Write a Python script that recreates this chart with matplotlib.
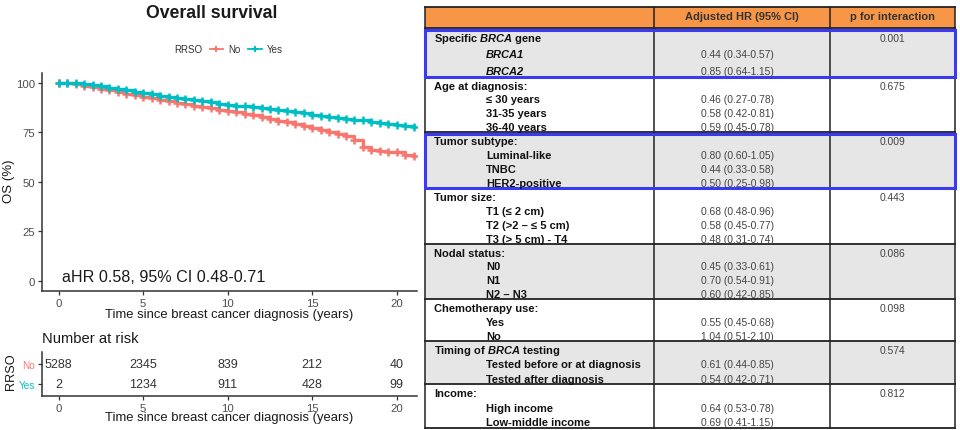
import matplotlib
matplotlib.use('Agg')
import matplotlib.pyplot as plt
from matplotlib.patches import Rectangle

plt.rcParams['font.family'] = ['Liberation Sans', 'DejaVu Sans']
plt.rcParams['mathtext.fontset'] = 'custom'
plt.rcParams['mathtext.it'] = 'Liberation Sans:italic:bold'
plt.rcParams['mathtext.rm'] = 'Liberation Sans:italic:bold'
plt.rcParams['mathtext.bf'] = 'Liberation Sans:italic:bold'

# ---------------- data ----------------
time_yrs = [0, 0.5, 1, 1.5, 2, 2.5, 3, 3.5, 4, 4.5, 5, 5.5, 6, 6.5, 7, 7.5, 8, 8.5,
            9, 9.5, 10, 10.5, 11, 11.5, 12, 12.5, 13, 13.5, 14, 14.5, 15, 15.5, 16,
            16.5, 17, 17.5, 18, 18.5, 19, 19.5, 20, 20.5, 21]
os_no = [100, 100, 99.5, 98.7, 97.9, 97.1, 96.3, 95.5, 94.6, 93.8, 92.9, 92.2, 91.5,
         90.7, 90.0, 89.3, 88.6, 87.9, 87.2, 86.5, 85.8, 85.1, 84.4, 83.6, 82.8, 81.9,
         81.0, 80.1, 79.1, 78.1, 77.1, 76.1, 75.2, 74.4, 73.3, 71.2, 67.6, 66.3, 65.6,
         65.2, 64.9, 63.8, 63.3]
os_yes = [100, 100, 99.8, 99.4, 98.9, 98.3, 97.7, 97.0, 96.3, 95.6, 94.8, 94.2, 93.6,
          93.0, 92.4, 91.8, 91.3, 90.8, 90.2, 89.6, 89.0, 88.6, 88.2, 87.7, 87.2, 86.7,
          86.2, 85.7, 85.2, 84.6, 84.0, 83.5, 83.0, 82.5, 82.0, 81.5, 81.1, 80.5, 79.8,
          79.2, 78.8, 78.1, 77.6]

risk_times = [0, 5, 10, 15, 20]
risk_no = [5288, 2345, 839, 212, 40]
risk_yes = [2, 1234, 911, 428, 99]

group_labels = [r"Specific $\mathit{BRCA}$ gene", "Age at diagnosis:", "Tumor subtype:",
                "Tumor size:", "Nodal status:", "Chemotherapy use:",
                r"Timing of $\mathit{BRCA}$ testing", "Income:"]
group_p = ["0.001", "0.675", "0.009", "0.443", "0.086", "0.098", "0.574", "0.812"]
sub_labels = [["BRCA1", "BRCA2"],
              ["≤ 30 years", "31-35 years", "36-40 years"],
              ["Luminal-like", "TNBC", "HER2-positive"],
              ["T1 (≤ 2 cm)", "T2 (>2 – ≤ 5 cm)", "T3 (> 5 cm) - T4"],
              ["N0", "N1", "N2 – N3"],
              ["Yes", "No"],
              ["Tested before or at diagnosis", "Tested after diagnosis"],
              ["High income", "Low-middle income"]]
italic_sub_groups = [0]
sub_hr = [["0.44 (0.34-0.57)", "0.85 (0.64-1.15)"],
          ["0.46 (0.27-0.78)", "0.58 (0.42-0.81)", "0.59 (0.45-0.78)"],
          ["0.80 (0.60-1.05)", "0.44 (0.33-0.58)", "0.50 (0.25-0.98)"],
          ["0.68 (0.48-0.96)", "0.58 (0.45-0.77)", "0.48 (0.31-0.74)"],
          ["0.45 (0.33-0.61)", "0.70 (0.54-0.91)", "0.60 (0.42-0.85)"],
          ["0.55 (0.45-0.68)", "1.04 (0.51-2.10)"],
          ["0.61 (0.44-0.85)", "0.54 (0.42-0.71)"],
          ["0.64 (0.53-0.78)", "0.69 (0.41-1.15)"]]
highlight_groups = [0, 2]

RED = '#F8766D'
TEAL = '#00BFC4'
W, H = 960, 431

fig = plt.figure(figsize=(9.6, 4.31), dpi=100)

def fx(px):
    return px / W

def fy(py):
    return 1 - py / H

# ---------------- table (background axes in pixel coords) ----------------
tab = fig.add_axes([0, 0, 1, 1])
tab.set_xlim(0, W)
tab.set_ylim(H, 0)
tab.axis('off')

X0, X1, X2, X3 = 425, 654, 830, 955
HEAD_TOP, HEAD_BOT = 8, 29
bounds = [29, 78, 133, 189, 245, 300, 342, 385, 429]

tab.add_patch(Rectangle((X0, HEAD_TOP), X3 - X0, HEAD_BOT - HEAD_TOP,
                        fc='#F79646', ec='none', zorder=1))
tab.text((X1 + X2) / 2, 19.5, "Adjusted HR (95% CI)",
         ha='center', va='baseline', fontsize=8, fontweight='bold', color='#333333', zorder=5)
tab.text((X2 + X3) / 2, 19.5, "p for interaction",
         ha='center', va='baseline', fontsize=8, fontweight='bold', color='#333333', zorder=5)

for i, glab in enumerate(group_labels):
    top, bot = bounds[i], bounds[i + 1]
    if i % 2 == 0:
        tab.add_patch(Rectangle((X0, top), X3 - X0, bot - top, fc='#E6E6E6',
                                ec='none', zorder=1))
    n = 1 + len(sub_labels[i])
    h = (bot - top) / n
    ys = [top + (k + 0.5) * h + 4.7 for k in range(n)]
    tab.text(X0 + 9, ys[0], glab, ha='left', va='baseline', fontsize=8,
             fontweight='bold', color='#111111', zorder=5)
    tab.text((X2 + X3) / 2, ys[0], group_p[i], ha='center', va='baseline',
             fontsize=7.4, color='#444444', zorder=5)
    style = 'italic' if i in italic_sub_groups else 'normal'
    for k, (sl, hr) in enumerate(zip(sub_labels[i], sub_hr[i])):
        tab.text(X0 + 61, ys[k + 1], sl, ha='left', va='baseline', fontsize=8,
                 fontweight='bold', fontstyle=style, color='#111111', zorder=5)
        tab.text(701, ys[k + 1], hr, ha='left', va='baseline', fontsize=7.4,
                 color='#444444', zorder=5)

for yb in [HEAD_TOP, HEAD_BOT] + bounds[1:]:
    tab.plot([X0, X3], [yb, yb], color='#222222', lw=1.3, zorder=3,
             solid_capstyle='projecting')
for xb in [X0, X1, X2, X3]:
    tab.plot([xb, xb], [HEAD_TOP, bounds[-1]], color='#222222', lw=1.1, zorder=3)

for gi in highlight_groups:
    tab.add_patch(Rectangle((X0, bounds[gi] + 2), X3 - X0, bounds[gi + 1] - bounds[gi] - 2,
                            fill=False, ec='#3A3AF2', lw=2.2, zorder=4))

# ---------------- KM plot ----------------
ax_l, ax_r = 41.8, 417.0
ax = fig.add_axes([fx(ax_l), fy(291.6), (ax_r - ax_l) / W, (291.6 - 74.1) / H])
ax.step(time_yrs, os_no, where='post', color=RED, lw=2.4, zorder=3)
ax.plot(time_yrs, os_no, '+', color=RED, ms=5.5, mew=1.8, zorder=3)
ax.step(time_yrs, os_yes, where='post', color=TEAL, lw=2.4, zorder=4)
ax.plot(time_yrs, os_yes, '+', color=TEAL, ms=5.5, mew=1.8, zorder=4)
ax.set_xlim(-1.0, 21.2)
ax.set_ylim(-5, 105)
ax.set_xticks([0, 5, 10, 15, 20])
ax.set_yticks([0, 25, 50, 75, 100])
for s in ['top', 'right']:
    ax.spines[s].set_visible(False)
for s in ['left', 'bottom']:
    ax.spines[s].set_linewidth(1.1)
    ax.spines[s].set_color('#333333')
ax.tick_params(length=3, width=0.9, color='#333333', labelcolor='#4D4D4D',
               labelsize=8.2, pad=2)
ax.patch.set_alpha(0)
ax.text(0.2, 2, "aHR 0.58, 95% CI 0.48-0.71", fontsize=11.6, color='#1A1A1A',
        ha='left', va='center')

fig.text(fx(212), fy(13), "Overall survival", ha='center', va='center',
         fontsize=12.7, fontweight='bold', color='#1A1A1A')
fig.text(fx(9), fy(181.5), "OS (%)", rotation=90, ha='center', va='center',
         fontsize=9.5, color='#1A1A1A')
fig.text(fx(229), fy(315), "Time since breast cancer diagnosis (years)",
         ha='center', va='center', fontsize=9.4, color='#1A1A1A')

# legend
fig.text(fx(188), fy(50.3), "RRSO", ha='center', va='center', fontsize=7,
         color='#333333')
h_no, = ax.plot([], [], color=RED, marker='+', lw=1.3, ms=4.5, mew=1.4)
h_yes, = ax.plot([], [], color=TEAL, marker='+', lw=1.3, ms=4.5, mew=1.4)
fig.legend([h_no, h_yes], ["No", "Yes"], loc='center', ncol=2,
           bbox_to_anchor=(fx(246), fy(50.3)), frameon=False, fontsize=7,
           handlelength=1.4, handletextpad=0.5, columnspacing=0.8,
           labelcolor='#333333', borderpad=0)

# ---------------- risk table ----------------
rk = fig.add_axes([fx(ax_l), fy(397), (ax_r - ax_l) / W, 44 / H])
rk.set_xlim(-1.0, 21.2)
rk.set_ylim(-0.6, 1.6)
for t, n in zip(risk_times, risk_no):
    rk.text(t, 1, str(n), ha='center', va='center', fontsize=9, color='#333333')
for t, n in zip(risk_times, risk_yes):
    rk.text(t, 0, str(n), ha='center', va='center', fontsize=9, color='#333333')
rk.set_xticks([0, 5, 10, 15, 20])
rk.set_yticks([1, 0])
rk.set_yticklabels(["No", "Yes"])
for lab, c in zip(rk.get_yticklabels(), [RED, TEAL]):
    lab.set_color(c)
for s in ['top', 'right']:
    rk.spines[s].set_visible(False)
for s in ['left', 'bottom']:
    rk.spines[s].set_linewidth(1.1)
    rk.spines[s].set_color('#333333')
rk.tick_params(length=3, width=0.9, color='#333333', labelsize=8.2, pad=2)
rk.tick_params(axis='y', labelsize=7.2)
rk.tick_params(axis='x', labelcolor='#4D4D4D')
rk.patch.set_alpha(0)

fig.text(fx(42), fy(339), "Number at risk", ha='left', va='center', fontsize=10.6,
         color='#1A1A1A')
fig.text(fx(11), fy(372), "RRSO", rotation=90, ha='center', va='center',
         fontsize=9.2, color='#1A1A1A')
fig.text(fx(229), fy(418), "Time since breast cancer diagnosis (years)",
         ha='center', va='center', fontsize=9.4, color='#1A1A1A')

fig.savefig('out.png', dpi=100)
